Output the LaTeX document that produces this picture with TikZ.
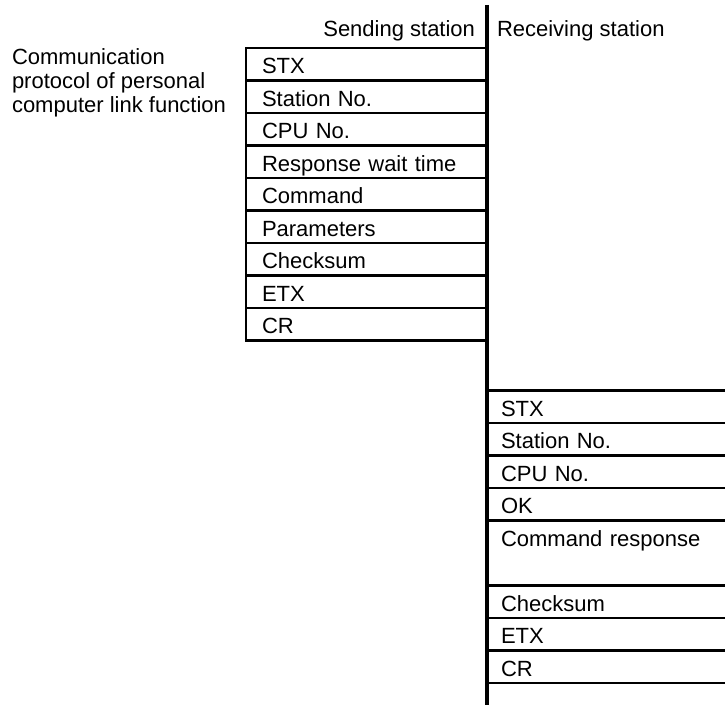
\documentclass[tikz,border=0pt]{standalone}
\usepackage{fontspec}
\setmainfont{Liberation Sans}
\begin{document}
\begin{tikzpicture}[x=1bp,y=-1bp,
  every node/.style={font=\fontsize{22bp}{24bp}\selectfont, inner sep=0pt, outer sep=0pt},
  rule/.style={line width=2.7bp},
  axisline/.style={line width=3.2bp},
  sendfield/.style={anchor=north west, draw, rule, inner xsep=16bp, inner ysep=0pt,
    text height=25.5bp, text depth=7bp, text width=209bp, align=left},
  recvfield/.style={anchor=north west, inner xsep=14bp, inner ysep=0pt,
    text height=25.5bp, text depth=7bp, text width=210bp, align=left},
  tallfield/.style={recvfield, text height=26bp, text depth=39bp}]
\useasboundingbox (0,0) rectangle (725,705);

% headings
\node[anchor=north west, align=left] (title) at (12,49)
  {Communication\\protocol of personal\\computer link function};
\node[anchor=base east] (send) at (475,37) {Sending station};
\node[anchor=base west] (recv) at (497,37) {Receiving station};

% sending station frame
\node[sendfield] (s1) at (246,48) {STX};
\node[sendfield] (s2) at (s1.south west) {Station No.};
\node[sendfield] (s3) at (s2.south west) {CPU No.};
\node[sendfield] (s4) at (s3.south west) {Response wait time};
\node[sendfield] (s5) at (s4.south west) {Command};
\node[sendfield] (s6) at (s5.south west) {Parameters};
\node[sendfield] (s7) at (s6.south west) {Checksum};
\node[sendfield] (s8) at (s7.south west) {ETX};
\node[sendfield] (s9) at (s8.south west) {CR};

% receiving station frame
\node[recvfield] (r1) at (487,390.5) {STX};
\node[recvfield] (r2) at (r1.south west) {Station No.};
\node[recvfield] (r3) at (r2.south west) {CPU No.};
\node[recvfield] (r4) at (r3.south west) {OK};
\node[tallfield] (r5) at (r4.south west) {Command response};
\node[recvfield] (r6) at (r5.south west) {Checksum};
\node[recvfield] (r7) at (r6.south west) {ETX};
\node[recvfield] (r8) at (r7.south west) {CR};

\foreach \n in {r1,r2,r3,r4,r5,r6,r7,r8}
  \draw[rule] (\n.north west) -- (\n.north east);
\draw[rule] (r8.south west) -- (r8.south east);

% central time line
\coordinate (top) at (487,5);
\coordinate (bottom) at (487,705);
\draw[axisline] (top) -- (bottom);
\end{tikzpicture}
\end{document}
